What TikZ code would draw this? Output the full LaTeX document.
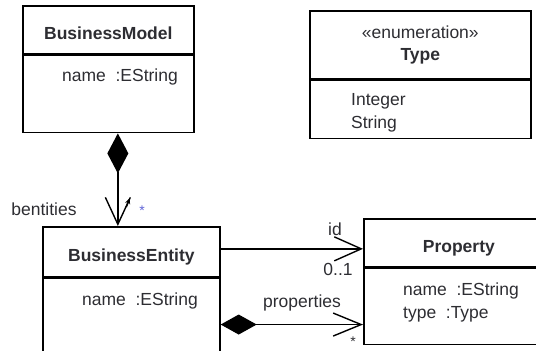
\documentclass[tikz,border=0pt]{standalone}
\usepackage{fontspec}
\setmainfont{Liberation Sans}
\usetikzlibrary{positioning,arrows.meta}

\definecolor{inkgray}{RGB}{45,45,50}
\definecolor{starblue}{RGB}{95,100,215}
\newcommand{\umlattr}[2]{#1\hspace{0.55em}:#2}

\tikzset{
  umlbox/.style={draw=black, line width=1.7pt, inner sep=0pt, anchor=north west},
  classname/.style={umlbox, text=inkgray, text height=20pt, text depth=0pt,
    font=\bfseries\fontsize{17.5}{21}\selectfont},
  attrtext/.style={anchor=north west, align=left, inner sep=0pt, text=inkgray,
    font=\fontsize{17.5}{23.5}\selectfont},
  rolelabel/.style={inner sep=0pt, text=inkgray, font=\fontsize{17.5}{21}\selectfont},
  multlabel/.style={inner sep=0pt, font=\fontsize{14}{14}\selectfont},
  link/.style={line width=1.4pt},
  openhead/.style={-{Straight Barb[length=27pt,width=24pt]}},
}

\begin{document}
\begin{tikzpicture}[x=1pt, y=-1pt]
\useasboundingbox (0,0) rectangle (536,351);

% BusinessModel
\node[classname, minimum width=171pt, minimum height=48pt] (bmname) at (22,5) {BusinessModel};
\node[umlbox, minimum width=171pt, minimum height=77pt, below=0pt of bmname] (bmbody) {};
\node[attrtext, below right=14pt and 40pt of bmname.south west] (bmattr) {\umlattr{name}{EString}};

% Type enumeration
\node[umlbox, minimum width=221pt, minimum height=68pt, align=center, text=inkgray,
  font=\fontsize{17.5}{22}\selectfont] (tyname) at (309,10) {«enumeration»\\\textbf{Type}};
\node[umlbox, minimum width=221pt, minimum height=58pt, below=0pt of tyname] (tybody) {};
\node[attrtext, below right=13.5pt and 42pt of tyname.south west] (tyattr) {Integer\\String};

% BusinessEntity
\node[classname, minimum width=177pt, minimum height=50pt] (bename) at (42,226) {BusinessEntity};
\node[umlbox, minimum width=177pt, minimum height=73pt, below=0pt of bename] (bebody) {};
\node[attrtext, below right=14.5pt and 40pt of bename.south west] (beattr) {\umlattr{name}{EString}};

% Property
\node[classname, minimum width=190pt, minimum height=48pt] (prname) at (363,218) {Property};
\node[umlbox, minimum width=190pt, minimum height=76pt, below=0pt of prname] (prbody) {};
\node[attrtext, below right=14.5pt and 40pt of prname.south west] (prattr) {\umlattr{name}{EString}\\\umlattr{type}{Type}};

% composition BusinessModel -> BusinessEntity
\coordinate (bmtip) at ([xshift=-13.5pt]bename.north);
\draw[link, {Diamond[length=40pt,width=21pt]}-{Straight Barb[length=27pt,width=25pt]}]
  ([xshift=9.5pt]bmbody.south) -- (bmtip);
\draw[link, -{Stealth[length=6pt,width=5pt]}] ([shift={(8.5,-19)}]bmtip) -- ([shift={(12,-28)}]bmtip);
\node[rolelabel] (bentlabel) at (44,209) {bentities};
\node[multlabel, text=starblue] (bentmult) at (142,211) {*};

% association id
\coordinate (idstart) at ([yshift=3pt]bename.east);
\draw[link, openhead] (idstart) -- (prname.west |- idstart);
\node[rolelabel] (idlabel) at (335,229) {id};
\node[rolelabel] (idmult) at (338,269) {0..1};

% composition properties
\coordinate (propstart) at ([yshift=-9.5pt]bebody.east);
\draw[link, {Diamond[length=36pt,width=20pt]}-{Straight Barb[length=28pt,width=23pt]}]
  (propstart) -- (prbody.west |- propstart);
\node[rolelabel] (proplabel) at (302,303) {properties};
\node[multlabel, text=inkgray] (propmult) at (353,342) {*};
\end{tikzpicture}
\end{document}
